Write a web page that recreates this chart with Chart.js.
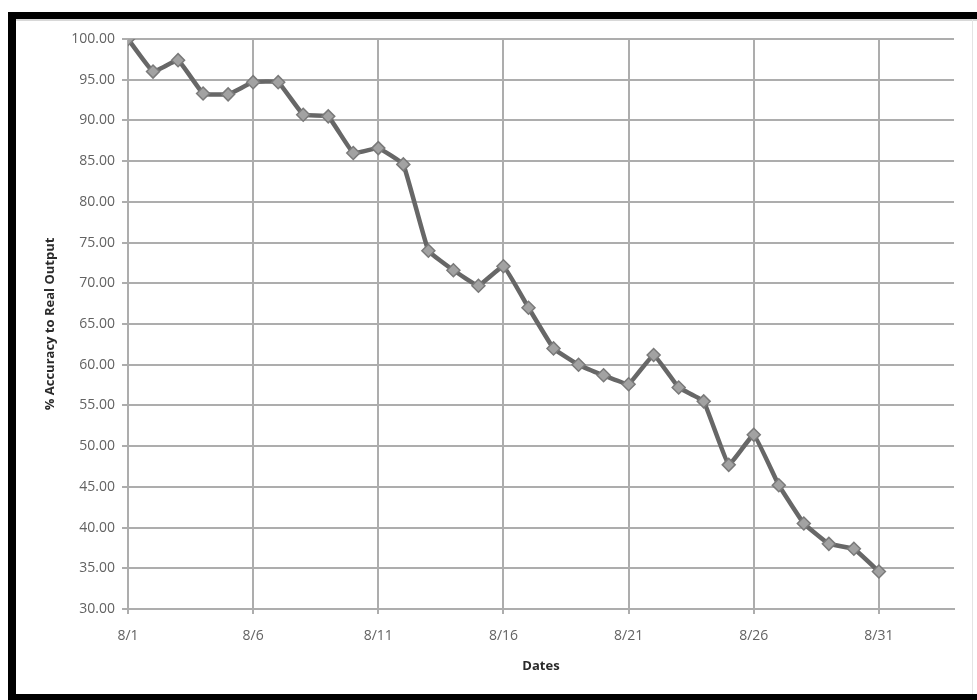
<!DOCTYPE html>
<html>
<head>
<meta charset="utf-8">
<script src="https://cdn.jsdelivr.net/npm/chart.js@4/dist/chart.umd.min.js"></script>
<style>
  html, body { margin: 0; padding: 0; background: #fff; }
  body { width: 977px; height: 700px; position: relative; overflow: hidden; }
  #wrap { position: absolute; left: 0; top: 0; width: 977px; height: 700px; }
  .bar { position: absolute; background: #000; }
  #topBar { left: 8px; top: 12px; width: 969px; height: 7px; }
  #topShade { position: absolute; left: 16px; top: 19px; width: 961px; height: 2px; background: #d8d8d8; }
  #leftBar { left: 8px; top: 12px; width: 8px; height: 688px; }
  #bottomBar { left: 8px; top: 694px; width: 969px; height: 6px; }
  #rightEdge { position: absolute; left: 972px; top: 19px; width: 1px; height: 675px; background: #e4e4e4; }
</style>
</head>
<body>
<div id="wrap"><canvas id="chart" width="977" height="700"></canvas></div>
<div class="bar" id="topBar"></div>
<div id="topShade"></div>
<div class="bar" id="leftBar"></div>
<div class="bar" id="bottomBar"></div>
<div id="rightEdge"></div>
<script>
// Day of August for each measurement
const dayNumbers = [1, 2, 3, 4, 5, 6, 7, 8, 9, 10, 11, 12, 13, 14, 15, 16,
                    17, 18, 19, 20, 21, 22, 23, 24, 25, 26, 27, 28, 29, 30, 31];
// Daily accuracy of the forecast against the real output (%)
const accuracy = [100.0, 96.0, 97.4, 93.3, 93.2, 94.7, 94.7, 90.7, 90.5, 86.0,
                  86.6, 84.6, 74.0, 71.6, 69.7, 72.1, 67.0, 62.0, 60.0, 58.7,
                  57.6, 61.2, 57.2, 55.5, 47.7, 51.4, 45.2, 40.5, 38.0, 37.4, 34.6];
// Labelled days on the date axis
const dateTicks = [1, 6, 11, 16, 21, 26, 31];
const monthPrefix = '8/';
const yTitle = '% Accuracy to Real Output';
const xTitle = 'Dates';

const points = dayNumbers.map((d, i) => ({ x: d, y: accuracy[i] }));

const gridColor = '#adadad';
const tickFont = { family: '"Open Sans", "DejaVu Sans", sans-serif', size: 14 };
const titleFont = { family: '"Open Sans", "DejaVu Sans", sans-serif', size: 13, weight: 'bold' };

new Chart(document.getElementById('chart'), {
  type: 'line',
  data: {
    datasets: [{
      data: points,
      borderColor: '#676767',
      borderWidth: 4.5,
      tension: 0.08,
      pointStyle: 'rectRot',
      pointRadius: 6.5,
      pointBackgroundColor: '#a2a2a2',
      pointBorderColor: '#7a7a7a',
      pointBorderWidth: 1.5,
      fill: false
    }]
  },
  options: {
    responsive: false,
    animation: false,
    events: [],
    layout: { padding: { left: 38, right: 23, top: 39, bottom: 22 } },
    plugins: { legend: { display: false }, tooltip: { enabled: false } },
    scales: {
      x: {
        type: 'linear',
        min: 1,
        max: 34,
        afterBuildTicks: (scale) => {
          scale.ticks = dateTicks.map(v => ({ value: v }));
        },
        afterFit: (scale) => { scale.height = 69; },
        grid: { color: gridColor, lineWidth: 2, tickLength: 5, drawTicks: true },
        border: { color: gridColor, width: 2 },
        ticks: {
          color: '#626262',
          font: tickFont,
          padding: 14,
          maxRotation: 0,
          callback: (v) => monthPrefix + v
        },
        title: { display: true, text: xTitle, color: '#2a2a2a', font: titleFont, padding: { top: 4, bottom: 4 } }
      },
      y: {
        min: 30,
        max: 100,
        afterFit: (scale) => { scale.width = 90; },
        grid: { color: gridColor, lineWidth: 2, tickLength: 6, drawTicks: true },
        border: { color: gridColor, width: 2 },
        ticks: {
          stepSize: 5,
          color: '#626262',
          font: tickFont,
          padding: 7,
          callback: (v) => v.toFixed(2)
        },
        title: { display: true, text: yTitle, color: '#2a2a2a', font: titleFont, padding: { top: 4, bottom: 4 } }
      }
    }
  }
});
</script>
</body>
</html>
